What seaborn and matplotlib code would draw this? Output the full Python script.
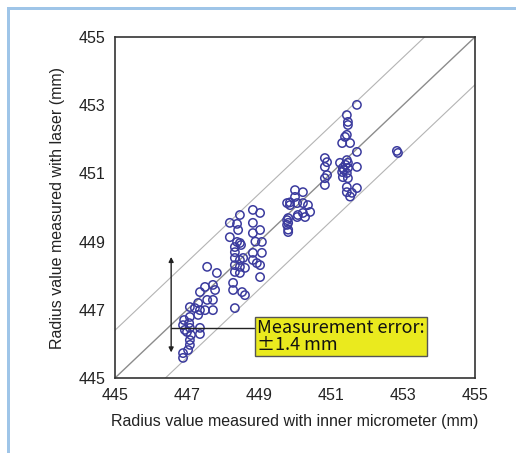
import matplotlib
matplotlib.use("Agg")
import matplotlib.pyplot as plt
import seaborn as sns
import pandas as pd
from matplotlib.patches import Rectangle

# Radius measured with inner micrometer (mm)
x_micrometer = [
    446.89, 446.89, 447.03, 447.08, 447.08, 447.11, 446.94, 447.08, 446.89, 447.06,
    447.36, 447.36, 447.08, 447.31, 447.36, 447.31, 447.50, 447.56, 447.36, 447.50,
    447.72, 447.56, 447.83, 447.72, 447.72, 447.78, 447.08, 446.92, 447.00, 447.22,
    448.83, 449.03, 448.47, 448.19, 448.39, 448.83, 448.42, 448.83, 449.03, 448.19,
    448.39, 448.47, 448.33, 449.08, 448.33, 448.83, 449.08, 448.33, 448.47, 448.56,
    448.83, 448.94, 448.33, 448.47, 448.61, 449.03, 448.33, 448.47, 449.03, 448.28,
    448.28, 448.53, 448.61, 448.33, 448.50, 448.90,
    449.78, 449.86, 449.78, 449.78, 449.81, 450.06,
    450.00, 450.22, 450.00, 449.86, 450.06, 450.22, 450.36, 450.42, 450.22, 450.08,
    450.28, 449.81, 449.81, 449.81,
    451.72, 451.44, 451.47, 451.47, 451.44, 451.39, 451.31, 451.53, 451.72, 450.83,
    450.89, 450.83, 451.25, 451.44, 451.47, 451.33, 451.47, 451.72, 451.31, 451.44,
    450.89, 450.83, 451.33, 451.47, 450.83, 451.44, 451.72, 451.44, 451.58, 451.53,
    451.40, 451.36,
    452.83, 452.86,
]
# Radius measured with laser (mm)
y_laser = [
    445.59, 445.73, 445.82, 445.97, 446.11, 446.26, 446.41, 446.47, 446.55, 446.61,
    446.47, 446.29, 446.79, 446.85, 446.99, 447.20, 446.99, 447.29, 447.52, 447.67,
    447.73, 448.26, 448.08, 446.99, 447.29, 447.58, 447.08, 446.70, 446.35, 447.05,
    449.93, 449.84, 449.78, 449.55, 449.52, 449.55, 449.34, 449.25, 449.34, 449.13,
    448.99, 448.96, 448.84, 448.99, 448.69, 448.67, 448.67, 448.52, 448.46, 448.52,
    448.46, 448.37, 448.31, 448.26, 448.23, 448.31, 448.11, 448.08, 447.96, 447.79,
    447.58, 447.52, 447.43, 447.05, 448.90, 449.00,
    450.13, 450.15, 449.63, 449.49, 449.28, 449.72,
    450.51, 450.45, 450.31, 450.07, 450.13, 450.13, 450.07, 449.87, 449.84, 449.78,
    449.72, 449.69, 449.55, 449.35,
    453.01, 452.71, 452.51, 452.42, 452.13, 452.07, 451.89, 451.89, 451.63, 451.45,
    451.33, 451.19, 451.31, 451.39, 451.31, 451.16, 451.16, 451.19, 451.04, 451.01,
    450.95, 450.86, 450.89, 450.86, 450.66, 450.60, 450.57, 450.45, 450.43, 450.32,
    451.25, 451.10,
    451.66, 451.60,
]

ticks = [445, 447, 449, 451, 453, 455]
error_mm = 1.4
arrow_x = 446.56
arrow_center = 447.15
leader_y = 446.47
box_x = 448.86

df = pd.DataFrame({"micrometer": x_micrometer, "laser": y_laser})

sns.set_style("white")
plt.rcParams["font.family"] = ["Liberation Sans", "DejaVu Sans"]

fig = plt.figure(figsize=(5.16, 4.53), dpi=100)
# light blue frame at top and left
fig.patches.append(Rectangle((7 / 516, 0), 3 / 516, 1 - 7 / 453, transform=fig.transFigure,
                             facecolor="#9fc5e8", edgecolor="none"))
fig.patches.append(Rectangle((7 / 516, 1 - 10 / 453), 1, 3 / 453, transform=fig.transFigure,
                             facecolor="#9fc5e8", edgecolor="none"))

ax = fig.add_axes([115 / 516, 1 - 378 / 453, 360 / 516, 341 / 453])

# reference lines
ax.axline((445, 445), slope=1, color="#8c8c8c", lw=1.0, zorder=1)
ax.axline((445, 445 + error_mm), slope=1, color="#b4b4b4", lw=0.8, zorder=1)
ax.axline((445, 445 - error_mm), slope=1, color="#b4b4b4", lw=0.8, zorder=1)

sns.scatterplot(data=df, x="micrometer", y="laser", ax=ax, marker="o", s=36,
                facecolor="none", edgecolor="#3b3b9e", linewidth=1.1, zorder=3)

ax.set_xlim(445, 455)
ax.set_ylim(445, 455)
ax.set_xticks(ticks)
ax.set_yticks(ticks)
ax.set_xticklabels([str(t) for t in ticks])
ax.set_yticklabels([str(t) for t in ticks])
ax.tick_params(direction="in", length=5, width=1, color="#333333", labelsize=11.5,
               pad=7, labelcolor="#222222")
for sp in ax.spines.values():
    sp.set_color("#333333")
    sp.set_linewidth(1.2)

ax.set_xlabel("Radius value measured with inner micrometer (mm)", fontsize=11.5,
              color="#222222", labelpad=8)
ax.set_ylabel("Radius value measured with laser (mm)", fontsize=11.5,
              color="#222222", labelpad=10)

# double arrow showing error range
ax.annotate("", xy=(arrow_x, arrow_center + error_mm), xytext=(arrow_x, arrow_center - error_mm),
            arrowprops=dict(arrowstyle="<|-|>", color="#222222", lw=1.0,
                            mutation_scale=7, shrinkA=0, shrinkB=0), zorder=4)
ax.plot([arrow_x, box_x], [leader_y, leader_y], color="#222222", lw=1.0, zorder=4)

ax.text(box_x + 0.08, leader_y - 0.26, "Measurement error:\n\u00b11.4 mm", fontsize=13,
        family=["Noto Sans CJK JP", "DejaVu Sans"],
        ha="left", va="center", linespacing=0.92, color="#111111", zorder=5,
        bbox=dict(boxstyle="square,pad=0.12", facecolor="#eaea1e", edgecolor="#555555", lw=1.0))

fig.savefig("out.png", dpi=100)
